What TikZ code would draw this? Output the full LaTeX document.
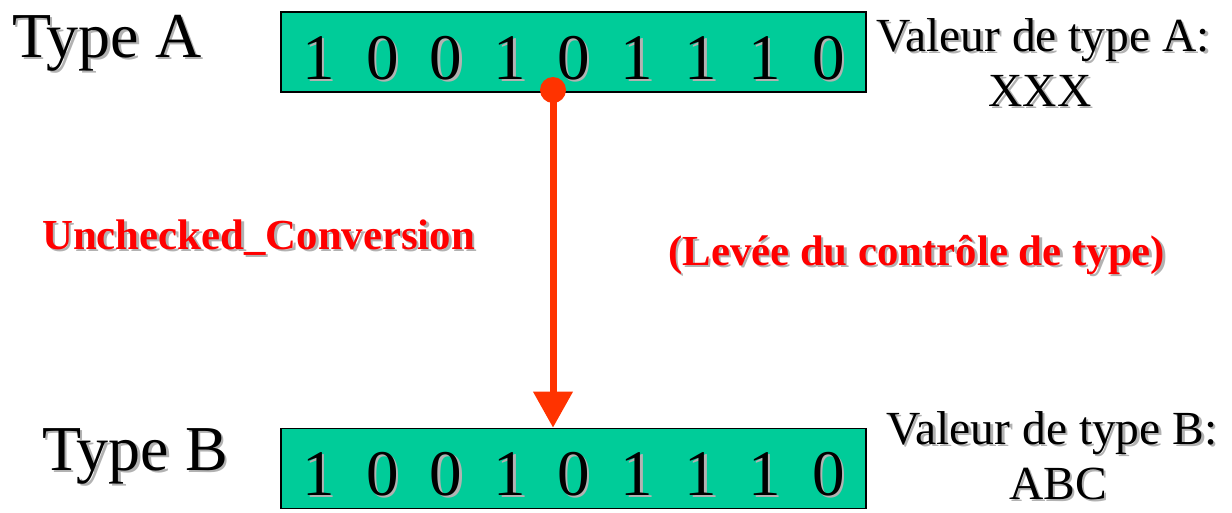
\documentclass[tikz,border=0pt]{standalone}
\usepackage{fontspec}
\setmainfont{LiberationSerif}[Extension=.ttf, UprightFont=*-Regular, BoldFont=*-Bold, Ligatures=TeX]
\usetikzlibrary{arrows.meta}
\definecolor{boxgreen}{RGB}{0,204,153}
\definecolor{arrowred}{RGB}{255,51,0}
\definecolor{textred}{RGB}{255,0,0}
\definecolor{shadowgray}{RGB}{178,178,178}
\newcommand\shtxt[1]{\makebox[0pt][l]{\hspace{2.5pt}\raisebox{-2.5pt}{\color{shadowgray}#1}}#1}
\newcommand\fsz[1]{\rmfamily\fontsize{#1}{#1}\selectfont}
\tikzset{
  bitbox/.style={draw=black, line width=1.6pt, fill=boxgreen, minimum width=585pt, minimum height=80pt, inner sep=0pt},
  digit/.style={anchor=base, inner sep=0pt, font=\fsz{65}},
  bigtype/.style={anchor=base west, inner sep=0pt, font=\fsz{64}},
  valtxt/.style={anchor=base, inner sep=0pt, font=\fsz{47.5}},
  redlbl/.style={anchor=base west, inner sep=0pt, text=textred, font=\fsz{42.8}\bfseries},
}
\begin{document}
\begin{tikzpicture}[x=1pt,y=1pt]
\useasboundingbox (0,0) rectangle (1232,-512);
% boxes
\node[bitbox] (boxA) at (573.5,-52) {};
\node[bitbox] (boxB) at (573.5,-468.5) {};
% digits
\foreach \d [count=\i] in {1,0,0,1,0,1,1,1,0} {
  \node[digit] (a\i) at ({573.5+(\i-5)*63.7},-79) {\shtxt{\d}};
  \node[digit] (b\i) at ({573.5+(\i-5)*63.7},-495) {\shtxt{\d}};
}
% type labels
\node[bigtype] (typeA) at (12,-57) {\shtxt{Type A}};
\node[bigtype] (typeB) at (42,-470) {\shtxt{Type B}};
% value labels
\node[valtxt] (valA1) at (1043,-51) {\shtxt{Valeur de type A:}};
\node[valtxt] (valA2) at (1040,-106) {\shtxt{XXX}};
\node[valtxt] (valB1) at (1052,-444) {\shtxt{Valeur de type B:}};
\node[valtxt] (valB2) at (1058,-499) {\shtxt{ABC}};
% red labels
\node[redlbl] (unch) at (42,-249) {\shtxt{Unchecked\_Conversion}};
\node[redlbl] (levee) at (668,-265) {\shtxt{(Levée du contrôle de type)}};
% arrow
\node[circle, fill=arrowred, minimum size=26pt, inner sep=0pt] (dot) at (553,-90) {};
\draw[arrowred, line width=7pt, -{Triangle[length=36pt,width=38pt]}] (dot.center) -- (dot |- boxB.north);
\end{tikzpicture}
\end{document}
